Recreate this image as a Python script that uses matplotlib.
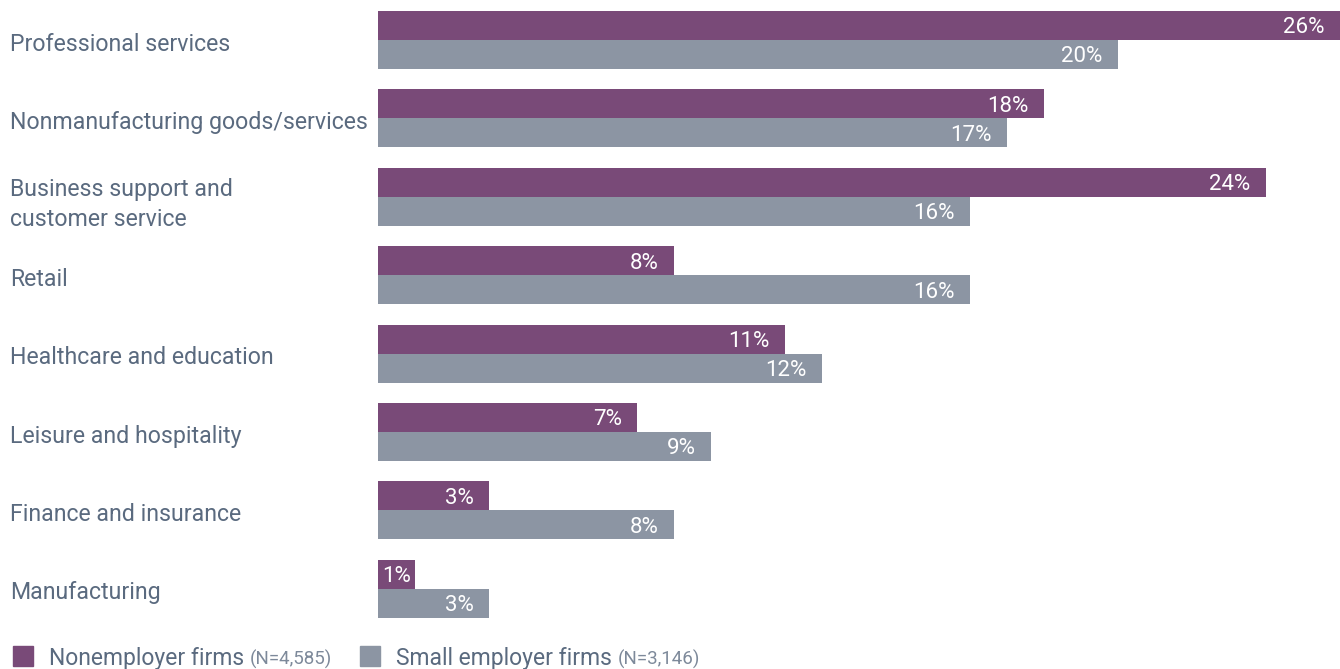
import matplotlib

matplotlib.use("Agg")
import matplotlib.pyplot as plt
import numpy as np
from matplotlib.patches import Rectangle
from matplotlib.transforms import blended_transform_factory

plt.rcParams["font.family"] = ["Roboto", "DejaVu Sans"]

_PURPLE = "#794a78"
_GRAY = "#8c95a3"
_TEXT = "#5a6a7f"
_TEXT_LIGHT = "#7d899a"

categories = [
    "Professional services",
    "Nonmanufacturing goods/services",
    "Business support and\ncustomer service",
    "Retail",
    "Healthcare and education",
    "Leisure and hospitality",
    "Finance and insurance",
    "Manufacturing",
]
nonemployer = [26, 18, 24, 8, 11, 7, 3, 1]
small_employer = [20, 17, 16, 16, 12, 9, 8, 3]
legend_labels = ["Nonemployer firms", "Small employer firms"]
legend_counts = ["(N=4,585)", "(N=3,146)"]

W, H = 1340, 669
PITCH = 78.4  # px between category groups
fig = plt.figure(figsize=(W / 100, H / 100), dpi=100)
ax = fig.add_axes([378 / W, 0, 1 - 378 / W, 1])

y = np.arange(len(categories))
h = 29 / PITCH
ax.barh(y - h / 2, nonemployer, height=h, color=_PURPLE)
ax.barh(y + h / 2, small_employer, height=h, color=_GRAY)

ax.set_xlim(0, 26)
ax.set_ylim((H - 40) / PITCH, -40 / PITCH)
ax.axis("off")

# value labels inside the bar ends
for yy, vals in ((y - h / 2, nonemployer), (y + h / 2, small_employer)):
    for yi, v in zip(yy, vals):
        if v <= 1:
            ax.annotate(f"{v}%", (v / 2, yi), xytext=(0, 0), textcoords="offset points",
                        ha="center", va="center_baseline", color="white", fontsize=16)
        else:
            ax.annotate(f"{v}%", (v, yi), xytext=(-11, 0), textcoords="offset points",
                        ha="right", va="center_baseline", color="white", fontsize=16)

# category labels at the left edge of the figure
trans = blended_transform_factory(fig.transFigure, ax.transData)
for yi, name in zip(y, categories):
    ax.text(10 / W, yi + 0.02, name, transform=trans, ha="left", va="center_baseline",
            color=_TEXT, fontsize=16.7, linespacing=1.4, clip_on=False)

# legend row
lx = [13, 360]
for x0, color, label, count in zip(lx, [_PURPLE, _GRAY], legend_labels, legend_counts):
    fig.add_artist(Rectangle((x0 / W, 1 - 666 / H), 20 / W, 20 / H,
                             transform=fig.transFigure, color=color))
    t = fig.text((x0 + 36) / W, 1 - 656 / H, label, ha="left", va="center_baseline",
                 color=_TEXT, fontsize=16.5)
    fig.canvas.draw()
    bb = t.get_window_extent()
    fig.text((bb.x1 + 6) / W, 1 - 657 / H, count, ha="left", va="center_baseline",
             color=_TEXT_LIGHT, fontsize=13.5)

fig.savefig("out.png", dpi=100, facecolor="white")
